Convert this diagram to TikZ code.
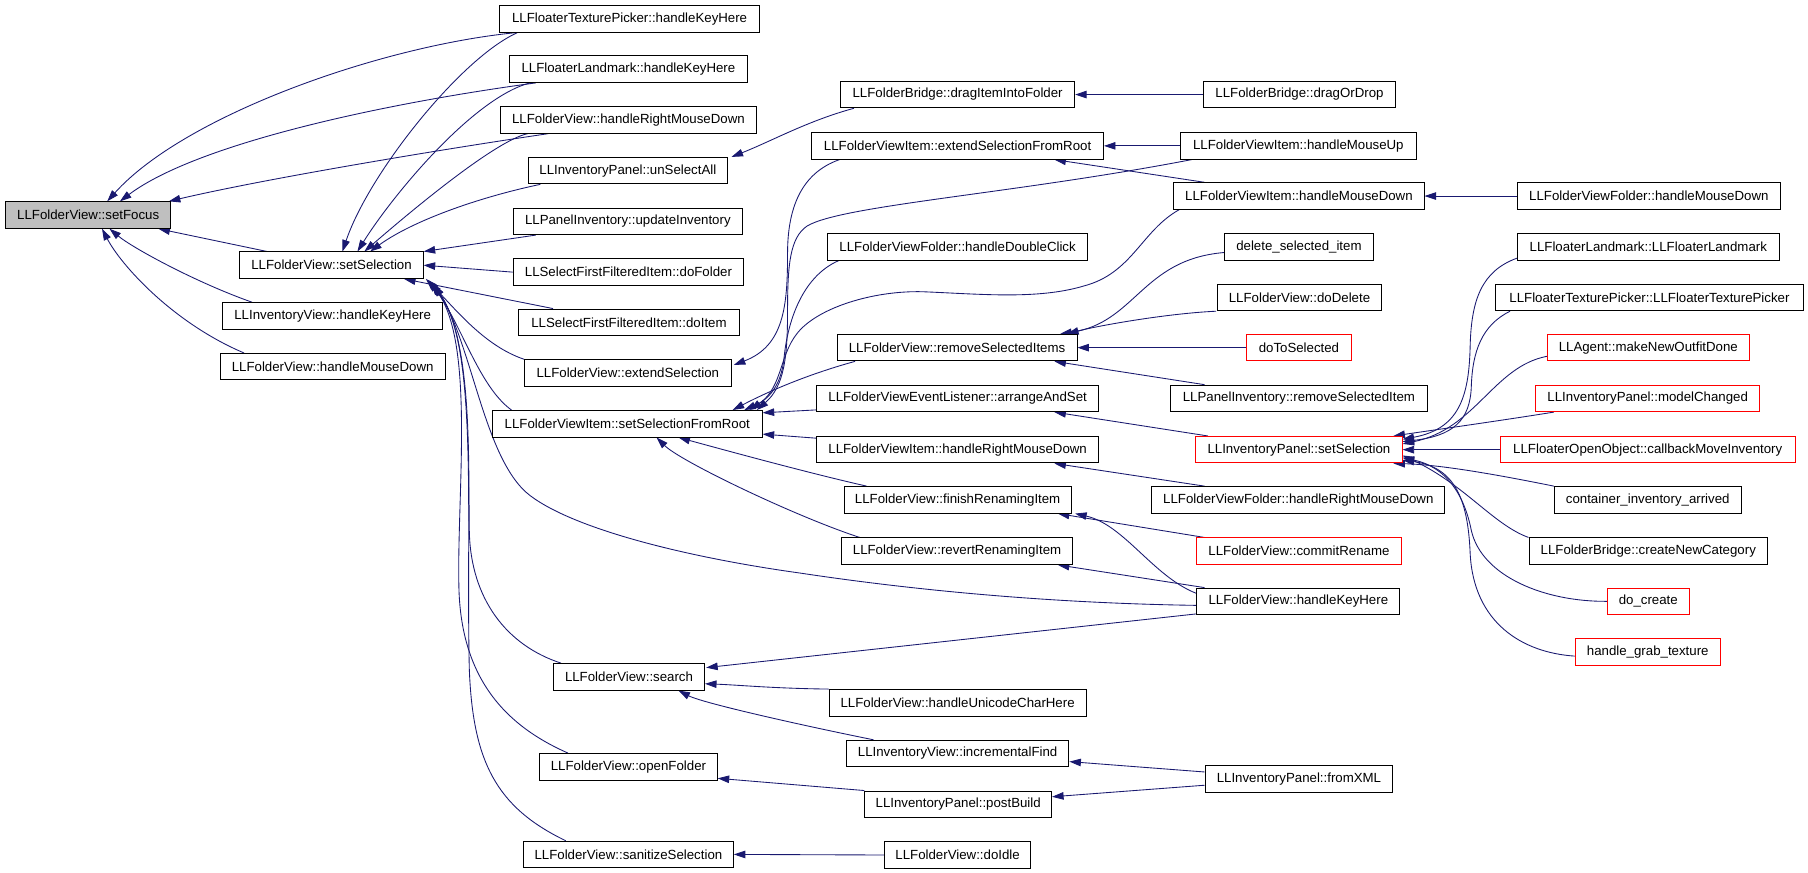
\documentclass[tikz,border=0pt]{standalone}
\usepackage{fontspec}
\setmainfont{Liberation Sans}
\usetikzlibrary{arrows.meta}
\pgfdeclarelayer{bg}
\pgfsetlayers{bg,main}
\definecolor{edgec}{HTML}{191970}
\definecolor{redc}{HTML}{FF0000}
\definecolor{grayc}{HTML}{BFBFBF}
\tikzset{
 box/.style={draw=black, line width=0.8pt, minimum height=23pt, inner sep=0pt, font=\fontsize{11.5}{13}\selectfont, fill=white},
 redbox/.style={box, draw=redc},
 rootbox/.style={box, fill=grayc},
 edge/.style={draw=edgec, line width=0.75pt, -{Triangle[length=10pt,width=6.5pt]}},
}
\begin{document}
\begin{tikzpicture}[x=1pt,y=1pt]
\useasboundingbox (0,0) rectangle (1568,-757);
% column 0
\node[rootbox, minimum width=143pt] (sf) at (76.5,-186.5) {LLFolderView::setFocus};
% column 1
\node[box, minimum width=159pt] (ss) at (287.5,-230) {LLFolderView::setSelection};
\node[box, minimum width=191pt] (ivhk) at (288.5,-274) {LLInventoryView::handleKeyHere};
\node[box, minimum width=195pt] (fvmd) at (288.5,-318) {LLFolderView::handleMouseDown};
% column 2
\node[box, minimum width=226pt] (tph) at (546,-16.5) {LLFloaterTexturePicker::handleKeyHere};
\node[box, minimum width=206pt] (lmh) at (545,-60) {LLFloaterLandmark::handleKeyHere};
\node[box, minimum width=222pt] (frmd) at (545,-104) {LLFolderView::handleRightMouseDown};
\node[box, minimum width=173pt] (usa) at (544.5,-148) {LLInventoryPanel::unSelectAll};
\node[box, minimum width=199pt] (upi) at (544.5,-192) {LLPanelInventory::updateInventory};
\node[box, minimum width=200pt] (sfd) at (545,-236) {LLSelectFirstFilteredItem::doFolder};
\node[box, minimum width=191pt] (sfi) at (545.5,-279.5) {LLSelectFirstFilteredItem::doItem};
\node[box, minimum width=179pt] (fes) at (544.5,-323.5) {LLFolderView::extendSelection};
\node[box, minimum width=234pt] (ssfr) at (544,-367.5) {LLFolderViewItem::setSelectionFromRoot};
\node[box, minimum width=131pt] (srch) at (545.5,-587) {LLFolderView::search};
\node[box, minimum width=154pt] (ofo) at (545,-665) {LLFolderView::openFolder};
\node[box, minimum width=182pt] (sani) at (545,-741) {LLFolderView::sanitizeSelection};
% column 3
\node[box, minimum width=203pt] (diif) at (830.5,-82) {LLFolderBridge::dragItemIntoFolder};
\node[box, minimum width=253pt] (esfr) at (830.5,-126.5) {LLFolderViewItem::extendSelectionFromRoot};
\node[box, minimum width=225pt] (fvfdc) at (830.5,-214) {LLFolderViewFolder::handleDoubleClick};
\node[box, minimum width=208pt] (rsi) at (830,-301.5) {LLFolderView::removeSelectedItems};
\node[box, minimum width=245pt] (aas) at (830.5,-345.5) {LLFolderViewEventListener::arrangeAndSet};
\node[box, minimum width=245pt] (fvirmd) at (830.5,-390) {LLFolderViewItem::handleRightMouseDown};
\node[box, minimum width=197pt] (fri) at (830.5,-433.5) {LLFolderView::finishRenamingItem};
\node[box, minimum width=200pt] (rri) at (830,-478) {LLFolderView::revertRenamingItem};
\node[box, minimum width=223pt] (huch) at (830.5,-609.5) {LLFolderView::handleUnicodeCharHere};
\node[box, minimum width=193pt] (incf) at (830.5,-653.5) {LLInventoryView::incrementalFind};
\node[box, minimum width=162pt] (pb) at (831,-697.5) {LLInventoryPanel::postBuild};
\node[box, minimum width=127pt] (idle) at (830.5,-741.5) {LLFolderView::doIdle};
% column 4
\node[box, minimum width=166pt] (dod) at (1127,-82) {LLFolderBridge::dragOrDrop};
\node[box, minimum width=204pt] (fvimu) at (1126,-126.5) {LLFolderViewItem::handleMouseUp};
\node[box, minimum width=217pt] (fvimd) at (1126.5,-170) {LLFolderViewItem::handleMouseDown};
\node[box, minimum width=129pt] (dsi) at (1126.5,-214) {delete\_selected\_item};
\node[box, minimum width=142pt] (dd) at (1127,-258) {LLFolderView::doDelete};
\node[redbox, minimum width=91pt] (dts) at (1126.5,-301.5) {doToSelected};
\node[box, minimum width=223pt] (pirsi) at (1126.5,-345.5) {LLPanelInventory::removeSelectedItem};
\node[redbox, minimum width=179pt] (ipss) at (1126.5,-390) {LLInventoryPanel::setSelection};
\node[box, minimum width=254pt] (fvfrmd) at (1126,-433.5) {LLFolderViewFolder::handleRightMouseDown};
\node[redbox, minimum width=177pt] (cr) at (1126.5,-478) {LLFolderView::commitRename};
\node[box, minimum width=176pt] (fvhk) at (1126,-521.5) {LLFolderView::handleKeyHere};
\node[box, minimum width=163pt] (fxml) at (1126.5,-675.5) {LLInventoryPanel::fromXML};
% column 5
\node[box, minimum width=228pt] (fvfmd) at (1430,-170) {LLFolderViewFolder::handleMouseDown};
\node[box, minimum width=227pt] (flfl) at (1429.5,-214) {LLFloaterLandmark::LLFloaterLandmark};
\node[box, minimum width=267pt] (ftpc) at (1430.5,-258) {LLFloaterTexturePicker::LLFloaterTexturePicker};
\node[redbox, minimum width=175pt] (amno) at (1429.5,-301.5) {LLAgent::makeNewOutfitDone};
\node[redbox, minimum width=194pt] (ipmc) at (1429,-345.5) {LLInventoryPanel::modelChanged};
\node[redbox, minimum width=256pt] (foocmi) at (1429,-390) {LLFloaterOpenObject::callbackMoveInventory};
\node[box, minimum width=162pt] (cia) at (1429,-433.5) {container\_inventory\_arrived};
\node[box, minimum width=207pt] (fbcnc) at (1429.5,-478) {LLFolderBridge::createNewCategory};
\node[redbox, minimum width=71pt] (docr) at (1429.5,-521.5) {do\_create};
\node[redbox, minimum width=126pt] (hgt) at (1429,-565.5) {handle\_grab\_texture};

\begin{pgfonlayer}{bg}
\fill[white] (0,0) rectangle (1568,-757);
% into setFocus
\draw[edge] ([xshift=14pt]tph.south west) .. controls (330,-40) and (160,-100) .. ([xshift=16.5pt]sf.north);
\draw[edge] ([xshift=23pt]lmh.south west) .. controls (330,-90) and (170,-125) .. ([xshift=27.5pt]sf.north);
\draw[edge] ([xshift=42pt]frmd.south west) .. controls (380,-130) and (230,-155) .. ([xshift=-2pt]sf.north east);
\draw[edge] ([xshift=24pt]ss.north west) -- ([xshift=-11pt]sf.south east);
\draw[edge] ([xshift=26pt]ivhk.north west) .. controls (170,-245) and (115,-215) .. ([xshift=18.5pt]sf.south);
\draw[edge] ([xshift=21pt]fvmd.north west) .. controls (150,-280) and (105,-230) .. ([xshift=12pt]sf.south);
% into setSelection
\draw[edge] ([xshift=16pt]tph.south west) .. controls (400,-50) and (320,-150) .. ([xshift=9.5pt]ss.north);
\draw[edge] ([xshift=18pt]lmh.south west) .. controls (410,-85) and (340,-170) .. ([xshift=22.5pt]ss.north);
\draw[edge] ([xshift=24pt]frmd.south west) .. controls (430,-122) and (360,-180) .. ([xshift=28.5pt]ss.north);
\draw[edge] ([xshift=11pt]usa.south west) .. controls (420,-170) and (360,-190) .. ([xshift=33.5pt]ss.north);
\draw[edge] ([xshift=20pt]upi.south west) -- (ss.north east);
\draw[edge] (sfd.west) -- (ss.east);
\draw[edge] ([xshift=30pt]sfi.north west) -- ([xshift=-17pt]ss.south east);
\draw[edge] (fes.north west) .. controls (420,-300) and (395,-268) .. ([xshift=2pt]ss.south east);
\draw[edge] ([xshift=17pt]ssfr.north west) .. controls (415,-335) and (400,-280) .. ([xshift=4pt,yshift=-1pt]ss.south east);
\draw[edge] ([xshift=7pt]srch.north west) .. controls (440,-560) and (408,-520) .. (407,-460) .. controls (406,-400) and (410,-290) .. ([xshift=6pt,yshift=-3pt]ss.south east);
\draw[edge] ([xshift=25pt]ofo.north west) .. controls (440,-630) and (400,-590) .. (398,-510) .. controls (396,-430) and (412,-300) .. ([xshift=7pt,yshift=-4pt]ss.south east);
\draw[edge] ([xshift=37pt]sani.north west) .. controls (430,-700) and (410,-660) .. (407,-580) .. controls (404,-450) and (415,-300) .. ([xshift=8pt,yshift=-5pt]ss.south east);
\draw[edge] ([yshift=-3.5pt]fvhk.west) .. controls (900,-523) and (780,-510) .. (694,-497) .. controls (600,-484) and (500,-460) .. (460,-430) .. controls (420,-400) and (410,-300) .. ([xshift=9pt,yshift=-5pt]ss.south east);
% into setSelectionFromRoot
\draw[edge] ([xshift=10pt]fvimu.south west) .. controls (880,-168) and (730,-178) .. (700,-196) .. controls (685,-206) and (683,-230) .. (683,-270) .. controls (683,-310) and (680,-335) .. ([xshift=-5pt]ssfr.north east);
\draw[edge] ([xshift=5pt]fvimd.south west) .. controls (990,-200) and (982,-237) .. (940,-248) .. controls (900,-260) and (850,-255) .. (800,-253) .. controls (760,-252) and (715,-265) .. (695,-285) .. controls (675,-305) and (680,-335) .. ([xshift=-11pt]ssfr.north east);
\draw[edge] ([xshift=10pt]fvfdc.south west) .. controls (695,-240) and (683,-280) .. (680,-310) .. controls (678,-330) and (670,-345) .. ([xshift=-16pt]ssfr.north east);
\draw[edge] ([xshift=16pt]rsi.south west) .. controls (710,-322) and (675,-335) .. ([xshift=-26pt]ssfr.north east);
\draw[edge] ([yshift=-10pt]aas.west) -- ([yshift=9.5pt]ssfr.east);
\draw[edge] ([yshift=10pt]fvirmd.west) -- ([yshift=-9pt]ssfr.east);
\draw[edge] ([xshift=20pt]fri.north west) .. controls (700,-410) and (620,-388) .. ([xshift=-73pt]ssfr.south east);
\draw[edge] ([xshift=16pt]rri.north west) .. controls (690,-448) and (590,-400) .. ([xshift=-92pt]ssfr.south east);
% other
\draw[edge] (dod.west) -- (diif.east);
\draw[edge] ([xshift=12pt]diif.south west) .. controls (700,-105) and (670,-122) .. ([xshift=3pt]usa.north east);
\draw[edge] ([xshift=24.5pt]esfr.south west) .. controls (695,-150) and (683,-180) .. (683,-220) .. controls (683,-265) and (680,-300) .. ([xshift=2pt,yshift=7pt]fes.east);
\draw[edge] (fvimu.west) -- (esfr.east);
\draw[edge] ([xshift=27pt]fvimd.north west) -- ([xshift=-43pt]esfr.south east);
\draw[edge] (fvfmd.west) -- (fvimd.east);
\draw[edge] ([yshift=-5pt]dsi.west) .. controls (990,-225) and (985,-280) .. ([xshift=-15pt]rsi.north east);
\draw[edge] ([xshift=-1pt]dd.south west) .. controls (1010,-272) and (950,-283) .. ([xshift=-9pt]rsi.north east);
\draw[edge] (dts.west) -- (rsi.east);
\draw[edge] ([xshift=30pt]pirsi.north west) -- ([xshift=-20pt]rsi.south east);
\draw[edge] ([xshift=11pt]ipss.north west) -- ([xshift=-39pt]aas.south east);
\draw[edge] ([xshift=46pt]fvfrmd.north west) -- ([xshift=-39pt]fvirmd.south east);
\draw[edge] ([xshift=7pt]cr.north west) -- ([xshift=-12pt]fri.south east);
\draw[edge] ([yshift=-5pt]fvhk.north west) .. controls (1000,-500) and (975,-455) .. ([xshift=3pt]fri.south east);
\draw[edge] ([xshift=7pt]fvhk.north west) -- ([xshift=-13pt]rri.south east);
\draw[edge] ([yshift=1pt]fvhk.south west) -- ([xshift=1pt,yshift=8pt]srch.east);
\draw[edge] (huch.north west) .. controls (670,-597) and (640,-594) .. ([yshift=-6pt]srch.east);
\draw[edge] ([xshift=24pt]incf.north west) .. controls (700,-630) and (610,-610) .. ([xshift=-23pt]srch.south east);
\draw[edge] (pb.north west) -- ([yshift=-10pt]ofo.east);
\draw[edge] ([yshift=6pt]fxml.west) -- ([yshift=-7pt]incf.east);
\draw[edge] ([yshift=-5.5pt]fxml.west) -- ([yshift=6.5pt]pb.east);
\draw[edge] (idle.west) -- (sani.east);
% into LLInventoryPanel::setSelection
\draw[edge] ([yshift=2pt]flfl.south west) .. controls (1285,-235) and (1276,-260) .. (1275,-300) .. controls (1274,-345) and (1265,-372) .. ([yshift=9pt]ipss.east);
\draw[edge] ([xshift=13pt]ftpc.south west) .. controls (1285,-282) and (1277,-305) .. (1276,-335) .. controls (1275,-365) and (1260,-378) .. ([yshift=7pt]ipss.east);
\draw[edge] ([yshift=-7.5pt]amno.west) .. controls (1295,-318) and (1280,-372) .. ([yshift=5pt]ipss.east);
\draw[edge] ([xshift=16pt]ipmc.south west) .. controls (1300,-365) and (1250,-372) .. ([xshift=-8pt]ipss.north east);
\draw[edge] (foocmi.west) -- (ipss.east);
\draw[edge] (cia.north west) .. controls (1300,-412) and (1250,-403) .. ([xshift=-8pt]ipss.south east);
\draw[edge] (fbcnc.north west) .. controls (1295,-455) and (1270,-420) .. ([yshift=-5pt]ipss.east);
\draw[edge] (docr.west) .. controls (1340,-522) and (1285,-500) .. (1276,-460) .. controls (1270,-430) and (1255,-405) .. ([yshift=-7pt]ipss.east);
\draw[edge] ([yshift=-3.5pt]hgt.west) .. controls (1320,-566) and (1278,-540) .. (1275,-480) .. controls (1273,-430) and (1260,-405) .. ([yshift=-9pt]ipss.east);
\end{pgfonlayer}
\end{tikzpicture}
\end{document}
